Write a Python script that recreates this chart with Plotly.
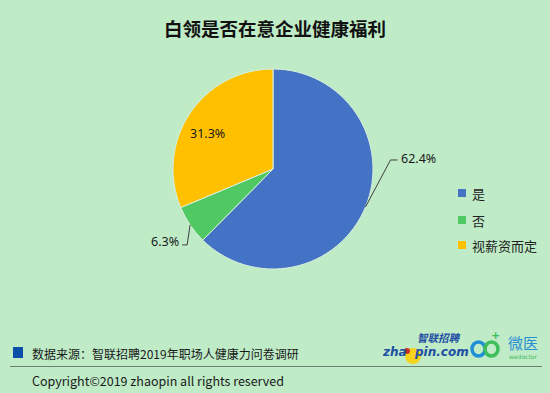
import math
import plotly.graph_objects as go

categories = ["是", "否", "视薪资而定"]
values = [62.4, 6.3, 31.3]
colors = ["#4472C4", "#50C864", "#FFC000"]
title_text = "白领是否在意企业健康福利"
source_text = "数据来源：智联招聘2019年职场人健康力问卷调研"
copyright_text = "Copyright©2019 zhaopin all rights reserved"

W, H = 550, 393
BG = "#BFEBC7"
FONT = "Noto Sans CJK SC"

def px(x):
    return x / W

def py(y):
    return 1 - y / H

# pie geometry (pixels)
cx, cy, r = 273, 169, 100

fig = go.Figure()
fig.add_trace(go.Pie(
    labels=categories,
    values=values,
    sort=False,
    direction="clockwise",
    rotation=0,
    marker=dict(colors=colors, line=dict(color="#D8F0DC", width=1)),
    textinfo="none",
    hoverinfo="label+percent",
    showlegend=False,
    domain=dict(x=[px(cx - r), px(cx + r)], y=[py(cy + r), py(cy - r)]),
))

annotations = []
shapes = []

# slice mid-angles derived from data
total = sum(values)
cum = 0
mids = []
for v in values:
    frac_mid = (cum + v / 2) / total
    mids.append(math.radians(90 - frac_mid * 360))
    cum += v

label_style = {
    0: dict(kind="out", elbow=(25, -47), end=(32, -47), anchor="left"),
    1: dict(kind="out", elbow=(-3, 20), end=(-8, 20), anchor="right"),
    2: dict(kind="in", f=0.72, dx=-6, dy=4),
}
lab_font = dict(family="Noto Sans", size=12.5, color="#1a1a1a")
for i, v in enumerate(values):
    a = mids[i]
    st = label_style[i]
    txt = f"{v:.1f}%"
    if st["kind"] == "out":
        ax_ = cx + r * math.cos(a)
        ay_ = cy - r * math.sin(a)
        ex, ey = ax_ + st["elbow"][0], ay_ + st["elbow"][1]
        tx, ty = ax_ + st["end"][0], ay_ + st["end"][1]
        shapes.append(dict(type="path", xref="paper", yref="paper",
                           path=f"M {px(ax_)},{py(ay_)} L {px(ex)},{py(ey)} L {px(tx)},{py(ty)}",
                           line=dict(color="#404040", width=1)))
        if st["anchor"] == "left":
            annotations.append(dict(x=px(tx + 1), y=py(ty - 1), xanchor="left", yanchor="middle",
                                    text=txt, showarrow=False, font=lab_font))
        else:
            annotations.append(dict(x=px(tx - 1), y=py(ty - 3), xanchor="right", yanchor="middle",
                                    text=txt, showarrow=False, font=lab_font))
    else:
        tx = cx + r * st["f"] * math.cos(a) + st["dx"]
        ty = cy - r * st["f"] * math.sin(a) + st["dy"]
        annotations.append(dict(x=px(tx), y=py(ty), xanchor="center", yanchor="middle",
                                text=txt, showarrow=False, font=lab_font))

# title
annotations.append(dict(x=px(275), y=py(28), xanchor="center", yanchor="middle",
                        text="<b>" + title_text + "</b>", showarrow=False,
                        font=dict(family=FONT, size=18.5, color="#111111")))

# manual legend
leg_y = [193, 220, 245]
for name, col, yy in zip(categories, colors, leg_y):
    shapes.append(dict(type="rect", xref="paper", yref="paper",
                       x0=px(458), x1=px(466), y0=py(yy + 4), y1=py(yy - 4),
                       fillcolor=col, line=dict(width=0)))
    annotations.append(dict(x=px(470), y=py(yy), xanchor="left", yanchor="middle",
                            text=name, showarrow=False,
                            font=dict(family=FONT, size=13, color="#222222")))

# source
shapes.append(dict(type="rect", xref="paper", yref="paper",
                   x0=px(13), x1=px(23), y0=py(358), y1=py(347),
                   fillcolor="#0B4FA8", line=dict(width=0)))
annotations.append(dict(x=px(30), y=py(353), xanchor="left", yanchor="middle",
                        text=source_text, showarrow=False,
                        font=dict(family=FONT, size=12, color="#1a1a1a")))
shapes.append(dict(type="line", xref="paper", yref="paper",
                   x0=px(10), x1=px(542), y0=py(366.5), y1=py(366.5),
                   line=dict(color="#6E7E70", width=1)))
annotations.append(dict(x=px(30), y=py(380), xanchor="left", yanchor="middle",
                        text=copyright_text, showarrow=False,
                        font=dict(family=FONT, size=12.5, color="#1a1a1a")))

# logos (approximated with text and shapes)
shapes.append(dict(type="circle", xref="paper", yref="paper",
                   x0=px(405), x1=px(421), y0=py(364), y1=py(348),
                   fillcolor="#F5D31C", line=dict(width=0)))
shapes.append(dict(type="circle", xref="paper", yref="paper",
                   x0=px(404), x1=px(410), y0=py(354), y1=py(348),
                   fillcolor="#D0302A", line=dict(width=0)))
annotations.append(dict(x=px(380), y=py(352), xanchor="left", yanchor="middle",
                        text="<b><i>zha  pin.com</i></b>", showarrow=False,
                        font=dict(family="DejaVu Sans", size=12, color="#1E4FA3")))
annotations.append(dict(x=px(415), y=py(337), xanchor="left", yanchor="middle",
                        text="<b><i>智联招聘</i></b>", showarrow=False,
                        font=dict(family=FONT, size=10.5, color="#1E4FA3")))
shapes.append(dict(type="circle", xref="paper", yref="paper",
                   x0=px(472), x1=px(485), y0=py(356), y1=py(342),
                   line=dict(color="#1F8FD6", width=3.5)))
shapes.append(dict(type="circle", xref="paper", yref="paper",
                   x0=px(485), x1=px(498), y0=py(356), y1=py(342),
                   line=dict(color="#3DBE5A", width=3.5)))
annotations.append(dict(x=px(495), y=py(335), xanchor="center", yanchor="middle",
                        text="<b>+</b>", showarrow=False,
                        font=dict(family="DejaVu Sans", size=11, color="#3DBE5A")))
annotations.append(dict(x=px(506), y=py(342), xanchor="left", yanchor="middle",
                        text="微医", showarrow=False,
                        font=dict(family=FONT, size=15, color="#2B8FD3")))
annotations.append(dict(x=px(507), y=py(356), xanchor="left", yanchor="middle",
                        text="wedoctor", showarrow=False,
                        font=dict(family="DejaVu Sans", size=6, color="#3DBE5A")))

fig.update_layout(
    width=W, height=H,
    margin=dict(l=0, r=0, t=0, b=0),
    paper_bgcolor=BG,
    plot_bgcolor=BG,
    showlegend=False,
    annotations=annotations,
    shapes=shapes,
)

fig.write_html("out.html", config={"displayModeBar": False},
               post_script="document.body.style.margin='0';document.body.style.overflow='hidden';")
